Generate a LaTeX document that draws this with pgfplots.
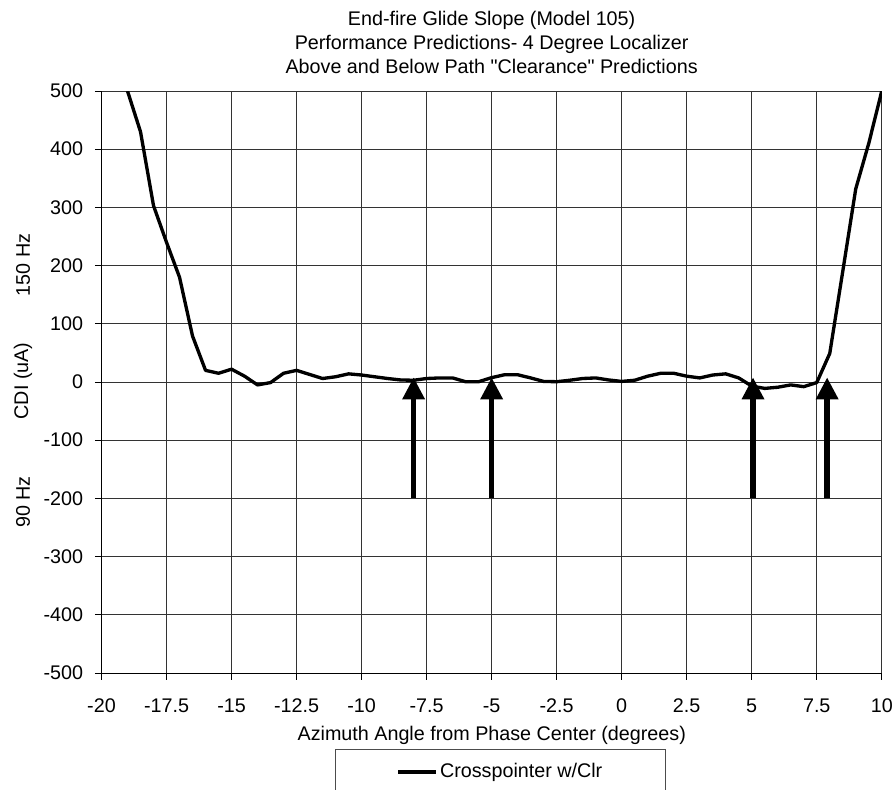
\documentclass[border=0pt]{standalone}
\usepackage{pgfplots}
\pgfplotsset{compat=1.18}
\usepackage{fontspec}
\setmainfont{Liberation Sans}[Ligatures=TeXOff]
\usetikzlibrary{arrows.meta}
\begin{document}
\fontsize{14.8}{18}\selectfont
\begin{tikzpicture}
\begin{axis}[
  name=ax,
  scale only axis, width=585.2pt, height=436.5pt,
  xmin=-20, xmax=10, ymin=-500, ymax=500,
  xtick={-20,-17.5,-15,-12.5,-10,-7.5,-5,-2.5,0,2.5,5,7.5,10},
  ytick={-500,-400,-300,-200,-100,0,100,200,300,400,500},
  axis lines=left, axis line style={-, line width=0.75pt, black},
  tick align=outside, major tick length=5pt,
  tick style={black, line width=0.75pt},
  grid=major, major grid style={black!80, line width=0.6pt},
  /pgf/number format/assume math mode=true,
  ticklabel style={font=\fontsize{14.8}{18}\selectfont},
  xticklabel style={anchor=north, inner sep=0pt, yshift=-14pt},
  yticklabel style={anchor=east, inner sep=0pt, xshift=-8.6pt},
  legend image code/.code={\draw[#1] (0pt,0pt) -- (28.5pt,0pt);},
  legend style={at={(0.5114,0)}, anchor=north, yshift=-57pt,
    draw=black!70, line width=0.6pt, inner xsep=46pt, inner ysep=9pt,
    font=\fontsize{14.8}{18}\selectfont,
    nodes={inner sep=1.5pt}},
]
\addplot[black, line width=2.5pt, line join=round] coordinates {
(-19,500) (-18.5,430) (-18,303) (-17.5,240) (-17,180) (-16.5,79) (-16,20)
(-15.5,15) (-15,22) (-14.5,10) (-14,-5) (-13.5,-1) (-13,15) (-12.5,20)
(-12,13) (-11.5,6) (-11,9) (-10.5,14) (-10,12) (-9.5,9) (-9,6) (-8.5,3.5)
(-8,3) (-7.5,6) (-7,7) (-6.5,7) (-6,0.5) (-5.5,0.5) (-5,7.5) (-4.5,12.5)
(-4,12.5) (-3.5,7) (-3,1) (-2.5,0.5) (-2,3) (-1.5,6) (-1,7) (-0.5,3.5)
(0,1) (0.5,3) (1,10) (1.5,15) (2,15) (2.5,10) (3,7) (3.5,12) (4,14)
(4.5,7) (5,-7) (5.5,-11) (6,-9) (6.5,-5) (7,-8) (7.5,-1) (8,49)
(8.5,190) (9,332) (9.5,410) (10,500)
};
\addlegendentry{Crosspointer w/Clr}
\addplot[forget plot, black, line width=4pt, line cap=butt,
  -{Triangle[width=16pt,length=16.5pt]}] coordinates {(-8,-200) (-8,8)};
\addplot[forget plot, black, line width=4pt, line cap=butt,
  -{Triangle[width=16pt,length=16.5pt]}] coordinates {(-5,-200) (-5,8)};
\addplot[forget plot, black, line width=4pt, line cap=butt,
  -{Triangle[width=16pt,length=16.5pt]}] coordinates {(5.05,-200) (5.05,8)};
\addplot[forget plot, black, line width=4pt, line cap=butt,
  -{Triangle[width=16pt,length=16.5pt]}] coordinates {(7.9,-200) (7.9,8)};
\end{axis}
\node[align=center, font=\fontsize{14.8}{18}\selectfont] at (292.6pt,473.25pt)
  {End-fire Glide Slope (Model 105)\\Performance Predictions- 4 Degree Localizer\\Above and Below Path "Clearance" Predictions};
\node[anchor=base] at (292.7pt,-50.25pt) {Azimuth Angle from Phase Center (degrees)};
\node[rotate=90] at (-58.9pt,219pt) {CDI (uA)};
\node[rotate=90] at (-58.9pt,306pt) {150 Hz};
\node[rotate=90] at (-58.9pt,128.25pt) {90 Hz};
\pgfresetboundingbox
\path[use as bounding box] (-76.125pt,-87pt) rectangle (595.875pt,504.75pt);
\end{tikzpicture}
\end{document}
